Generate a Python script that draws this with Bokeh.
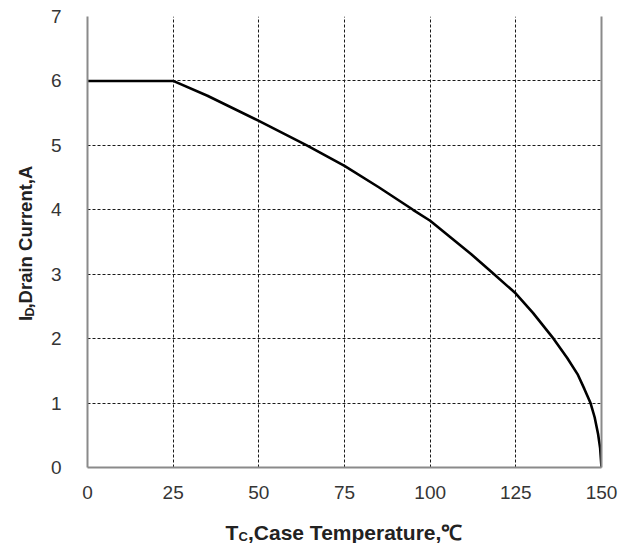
import math
from bokeh.plotting import figure
from bokeh.models import LinearAxis, FixedTicker, Range1d
from bokeh.layouts import column, row
from bokeh.core.properties import value
from bokeh.embed import file_html
from bokeh.resources import INLINE

# Data
temp_c = [0, 25, 35, 50, 64, 75, 85, 95, 100, 106, 112, 118, 125, 130, 136, 140, 143, 145, 146.8, 148, 149, 149.6, 150]
drain_a = [6.0, 6.0, 5.77, 5.38, 5.0, 4.68, 4.35, 4.0, 3.83, 3.57, 3.31, 3.03, 2.70, 2.40, 2.0, 1.70, 1.45, 1.22, 1.0, 0.78, 0.52, 0.30, 0.0]
x_ticks = [0, 25, 50, 75, 100, 125, 150]
y_ticks = [0, 1, 2, 3, 4, 5, 6, 7]

FONT = "Liberation Sans"
TOTAL_W, TOTAL_H = 630, 543
LEFT_W = 40          # strip holding the y-axis title
MAIN_H = 505         # main chart height; below it, a strip for the x-axis title
BOT_H = TOTAL_H - MAIN_H

# ---------------- main chart ----------------
p = figure(width=TOTAL_W - LEFT_W, height=MAIN_H, output_backend="svg", toolbar_location=None,
           x_range=Range1d(0, 150), y_range=Range1d(0, 7),
           min_border_left=47, min_border_right=29, min_border_top=16, min_border_bottom=38)
p.background_fill_color = "white"
p.border_fill_color = "white"
p.outline_line_color = None

for ax in (p.xaxis[0], p.yaxis[0]):
    ax.axis_line_color = "#8a8a8a"
    ax.axis_line_width = 2
    ax.major_tick_line_color = None
    ax.minor_tick_line_color = None
    ax.major_label_text_font = FONT
    ax.major_label_text_font_size = "19px"
    ax.major_label_text_color = "#353535"
p.xaxis.ticker = FixedTicker(ticks=x_ticks)
p.yaxis.ticker = FixedTicker(ticks=y_ticks)
p.xaxis.major_label_standoff = 12
p.yaxis.major_label_standoff = 20

right = LinearAxis(ticker=FixedTicker(ticks=[]), axis_line_color="#8a8a8a", axis_line_width=2,
                   major_tick_line_color=None, minor_tick_line_color=None,
                   major_label_text_font_size="0px")
p.add_layout(right, "right")

for g in (p.xgrid[0], p.ygrid[0]):
    g.grid_line_color = "#1a1a1a"
    g.grid_line_dash = "3 2"
    g.grid_line_width = 1
p.xgrid.ticker = FixedTicker(ticks=x_ticks)
p.ygrid.ticker = FixedTicker(ticks=y_ticks)

p.line(temp_c, drain_a, line_color="black", line_width=2.6)

# ---------------- title strips (pixel-unit ranges) ----------------
def strip(w, h):
    f = figure(width=w, height=h, output_backend="svg", toolbar_location=None, title=None,
               x_range=Range1d(0, w), y_range=Range1d(0, h),
               x_axis_type=None, y_axis_type=None, min_border=0)
    f.outline_line_color = None
    f.background_fill_color = "white"
    f.border_fill_color = "white"
    f.xgrid.visible = False
    f.ygrid.visible = False
    return f

def put(f, x, y, txt, size, angle=0.0):
    f.text(x=[x], y=[y], text=[txt], text_font=value(FONT), text_font_size=value(f"{size}px"),
           text_font_style=value("bold"), text_color="#222222", angle=angle,
           text_align="left", text_baseline="alphabetic")

# y-axis title: I_D,Drain Current,A (rotated, reading upward)
ly = strip(LEFT_W, MAIN_H)
put(ly, 25, MAIN_H - 341, "I", 18.5, math.pi / 2)
put(ly, 29, MAIN_H - 336, "D", 12.5, math.pi / 2)
put(ly, 25, MAIN_H - 327, ",Drain Current,A", 18.5, math.pi / 2)

# x-axis title: T_C,Case Temperature,℃
bx = strip(TOTAL_W, BOT_H)
put(bx, 225, TOTAL_H - 532, "T", 21)
put(bx, 238, TOTAL_H - 536, "C", 13)
put(bx, 247.5, TOTAL_H - 532, ",Case Temperature,\u2103", 21)

layout = column(row(ly, p), bx)
open("out.html", "w").write(file_html(layout, INLINE))
